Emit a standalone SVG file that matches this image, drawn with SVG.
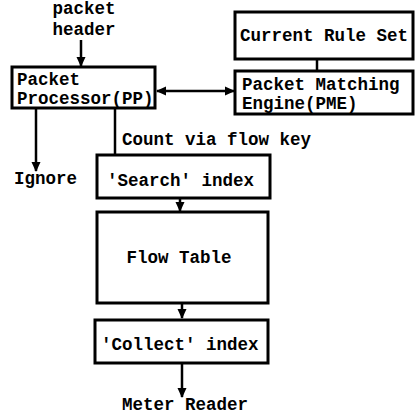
<svg xmlns="http://www.w3.org/2000/svg" width="416" height="415" viewBox="0 0 416 415">
<style>
.box{fill:#fff;stroke:#000;stroke-width:3}
.t{font-family:"Liberation Mono","Courier New",monospace;font-weight:bold;font-size:17.5px;fill:#000}
.c{stroke:#000;stroke-width:2.5;fill:none}
</style>
<defs>
<marker id="ah" markerWidth="10" markerHeight="10" refX="9" refY="5" orient="auto-start-reverse" markerUnits="userSpaceOnUse">
<path d="M0,0.5 L10,5 L0,9.5 Z" fill="#000"/>
</marker>
</defs>
<rect width="416" height="415" fill="#fff"/>
<g id="connectors">
<line class="c" x1="81" y1="40" x2="81" y2="66" marker-end="url(#ah)"/>
<line class="c" x1="157" y1="91" x2="234" y2="91" marker-start="url(#ah)" marker-end="url(#ah)"/>
<line class="c" x1="317" y1="59" x2="317" y2="71"/>
<line class="c" x1="36" y1="108" x2="36" y2="171" marker-end="url(#ah)"/>
<line class="c" x1="115" y1="108" x2="115" y2="155"/>
<line class="c" x1="180" y1="198" x2="180" y2="211" marker-end="url(#ah)"/>
<line class="c" x1="182" y1="303" x2="182" y2="318" marker-end="url(#ah)"/>
<line class="c" x1="182" y1="363" x2="182" y2="397" marker-end="url(#ah)"/>
</g>
<g id="packet-header"><text class="t" x="84" y="14" text-anchor="middle">packet</text><text class="t" x="84" y="35" text-anchor="middle">header</text></g>
<g id="current-rule-set"><rect class="box" x="235" y="12" width="178" height="47"/><text class="t" x="240" y="41">Current Rule Set</text></g>
<g id="pp"><rect class="box" x="12" y="67" width="143" height="41"/><text class="t" x="17" y="85">Packet</text><text class="t" x="17" y="104">Processor(PP)</text></g>
<g id="pme"><rect class="box" x="235" y="71" width="178" height="43"/><text class="t" x="242" y="90">Packet Matching</text><text class="t" x="242" y="109">Engine(PME)</text></g>
<g id="ignore"><text class="t" x="14" y="184">Ignore</text></g>
<g id="count-label"><text class="t" x="122" y="145">Count via flow key</text></g>
<g id="search"><rect class="box" x="97" y="155" width="173" height="43"/><text class="t" x="107" y="186">'Search' index</text></g>
<g id="flow-table"><rect class="box" x="97" y="212" width="171" height="91"/><text class="t" x="179" y="263" text-anchor="middle">Flow Table</text></g>
<g id="collect"><rect class="box" x="95" y="320" width="173" height="43"/><text class="t" x="101" y="350">'Collect' index</text></g>
<g id="meter-reader"><text class="t" x="185" y="410" text-anchor="middle">Meter Reader</text></g>
</svg>
